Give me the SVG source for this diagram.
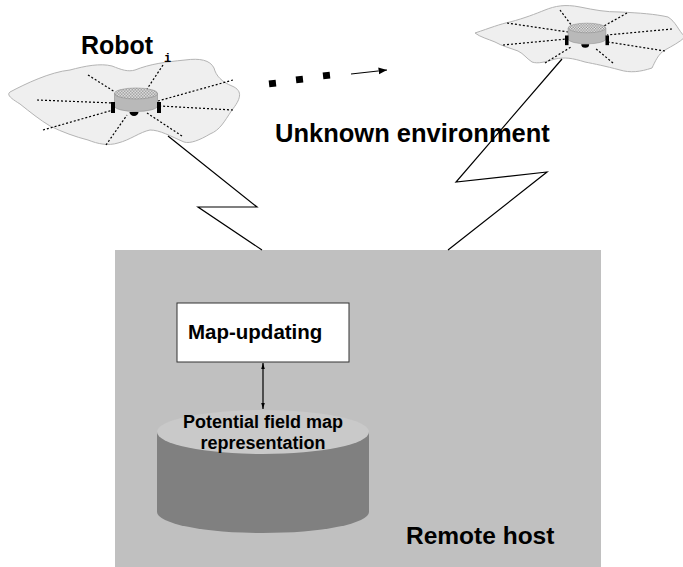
<svg xmlns="http://www.w3.org/2000/svg" width="683" height="567" viewBox="0 0 683 567">
  <style>
    .cloud { fill: #efefef; stroke: #b4b4b4; stroke-width: 1; }
    .ray { stroke: #000; stroke-width: 1.2; stroke-dasharray: 2 2; fill: none; }
    .link { stroke: #000; stroke-width: 1.2; fill: none; }
    .label { font-family: "Liberation Sans", Arial, sans-serif; font-weight: bold; fill: #000; }
  </style>
  <defs>
    <pattern id="mesh" width="3" height="3" patternUnits="userSpaceOnUse">
      <rect width="3" height="3" fill="#f4f4f4"/>
      <rect width="1.5" height="1.5" fill="#8a8a8a"/>
      <rect x="1.5" y="1.5" width="1.5" height="1.5" fill="#8a8a8a"/>
    </pattern>
    <marker id="tip" viewBox="0 0 10 10" refX="10" refY="5" markerWidth="7" markerHeight="7" orient="auto-start-reverse">
      <path d="M0,1 L10,5 L0,9 Z" fill="#000"/>
    </marker>
    <marker id="tipSmall" viewBox="0 0 10 10" refX="10" refY="5" markerWidth="5" markerHeight="9" orient="auto-start-reverse">
      <path d="M0,2 L10,5 L0,8 Z" fill="#000"/>
    </marker>
    <!-- robot drawn around the centre of its top disc -->
    <g id="robot">
      <path d="M-21.5,0 L-21.5,12.5 A21.5,5.5 0 0 0 21.5,12.5 L21.5,0 Z" fill="#b9b9b9" stroke="#8c8c8c" stroke-width="0.6"/>
      <ellipse cx="0" cy="0" rx="21.5" ry="5.5" fill="url(#mesh)" stroke="#8c8c8c" stroke-width="0.6"/>
      <rect x="-25" y="8.5" width="4" height="11" fill="#000"/>
      <rect x="21" y="8.5" width="4" height="11" fill="#000"/>
      <path d="M-6.5,18.5 A4.5,4 0 0 0 2.5,18.5 Z" fill="#000"/>
    </g>
  </defs>

  <!-- remote host area -->
  <g id="remote-host">
    <rect x="115" y="250" width="486" height="317" fill="#c0c0c0"/>
    <text class="label" x="406" y="544" font-size="24.5">Remote host</text>
  </g>

  <!-- left robot with its sensing range -->
  <g id="robot-i">
    <path class="cloud" d="M10,92 C25,84 50,72 70,70 C85,66 100,63 112,66 C122,70 128,72 135,70 C150,64 165,62 185,60 C200,58 210,60 214,68 C216,76 222,82 232,86 C244,91 240,100 232,110 C224,122 220,130 210,134 C200,140 190,144 184,142 C170,136 160,130 150,130 C140,132 130,140 118,143 C108,146 98,144 88,140 C76,137 62,132 50,126 C40,120 30,112 20,104 C12,99 6,95 10,92 Z"/>
    <line class="ray" x1="88" y1="75" x2="115" y2="92"/>
    <line class="ray" x1="163" y1="65" x2="147" y2="89"/>
    <line class="ray" x1="233" y1="80" x2="158" y2="101"/>
    <line class="ray" x1="233" y1="110" x2="160" y2="106"/>
    <line class="ray" x1="37" y1="100" x2="113" y2="103"/>
    <line class="ray" x1="43" y1="130" x2="113" y2="110"/>
    <line class="ray" x1="106" y1="145" x2="127" y2="115"/>
    <line class="ray" x1="182" y1="136" x2="147" y2="113"/>
    <use href="#robot" x="136" y="93.5"/>
    <text class="label" x="81" y="54" font-size="25">Robot</text>
    <text x="164" y="62" font-family="'Liberation Mono', 'Courier New', monospace" font-weight="bold" font-size="12">i</text>
  </g>

  <!-- remote robot with its sensing range -->
  <g id="robot-n">
    <path class="cloud" d="M475,33 C490,28 500,24 510,22 C525,18 535,14 545,10 C555,6 565,4 580,7 C595,10 605,12 620,12 C640,13 655,14 668,17 C676,22 678,30 685,37 C680,42 672,46 665,50 C658,54 655,62 652,68 C640,72 630,73 620,70 C605,66 595,64 585,62 C572,58 565,57 555,59 C545,62 538,64 532,62 C526,58 524,54 518,51 C510,48 502,46 495,42 C488,39 480,37 475,33 Z"/>
    <line class="ray" x1="560" y1="10" x2="572" y2="26"/>
    <line class="ray" x1="627" y1="13" x2="604" y2="26"/>
    <line class="ray" x1="507" y1="23" x2="568" y2="32"/>
    <line class="ray" x1="672" y1="29" x2="607" y2="35"/>
    <line class="ray" x1="503" y1="45" x2="567" y2="39"/>
    <line class="ray" x1="665" y1="51" x2="608" y2="42"/>
    <line class="ray" x1="545" y1="63" x2="571" y2="47"/>
    <line class="ray" x1="613" y1="63" x2="595" y2="48"/>
    <use href="#robot" transform="translate(587,28) scale(0.88)"/>
  </g>

  <text id="environment-label" class="label" x="275" y="142" font-size="25.5">Unknown environment</text>

  <!-- map-updating module -->
  <g id="map-updating">
    <rect x="177" y="303" width="172" height="59" fill="#fff" stroke="#333" stroke-width="1"/>
    <text class="label" x="188" y="339" font-size="20.5">Map-updating</text>
  </g>

  <!-- map storage -->
  <g id="potential-field-map">
    <path d="M157,432 L157,512 A106,21 0 0 0 369,512 L369,432 Z" fill="#808080"/>
    <ellipse cx="263" cy="432" rx="106" ry="22" fill="#c9c9c9"/>
    <text class="label" x="263" y="428" font-size="18" text-anchor="middle">Potential field map</text>
    <text class="label" x="263" y="449" font-size="18" text-anchor="middle">representation</text>
  </g>

  <!-- connectors -->
  <g id="connectors">
    <path class="link" d="M168,136 L257,207 L198,207 L262,250"/>
    <path class="link" d="M562,59 L456,182 L547,172 L448,250"/>
    <line x1="263" y1="363" x2="263" y2="409" stroke="#000" stroke-width="1.2" marker-start="url(#tipSmall)" marker-end="url(#tipSmall)"/>
    <rect x="269" y="80" width="7" height="7" fill="#000" transform="rotate(-6 272.5 83.5)"/>
    <rect x="296" y="76" width="7" height="7" fill="#000" transform="rotate(-6 299.5 79.5)"/>
    <rect x="323" y="72" width="7" height="7" fill="#000" transform="rotate(-6 326.5 75.5)"/>
    <line x1="351" y1="74" x2="387" y2="70" stroke="#000" stroke-width="1.2" marker-end="url(#tip)"/>
  </g>
</svg>
